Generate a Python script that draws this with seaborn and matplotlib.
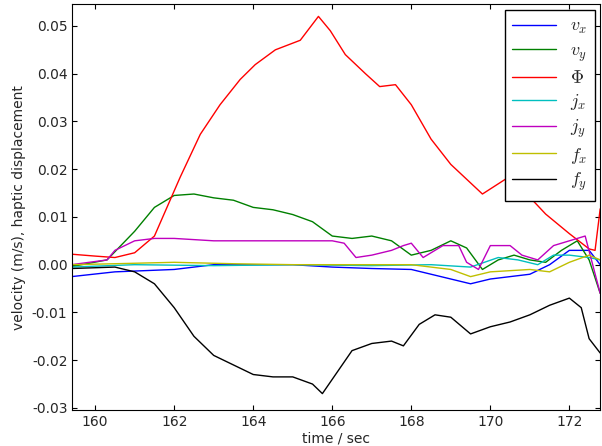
import matplotlib
matplotlib.use("Agg")
import matplotlib.pyplot as plt
import seaborn as sns
import pandas as pd

t_phi = [159.4,160.0,160.5,161.0,161.5,162.15,162.66,163.16,163.67,164.05,164.56,165.19,165.65,165.95,166.33,166.84,167.2,167.6,168.0,168.5,169.0,169.8,170.4,170.9,171.4,172.0,172.5,172.65,172.78]
phi   = [0.0022,0.0018,0.0015,0.0025,0.006,0.0183,0.0273,0.0335,0.0388,0.0419,0.045,0.047,0.052,0.049,0.044,0.040,0.0373,0.0377,0.0335,0.0263,0.021,0.0148,0.018,0.015,0.0106,0.0065,0.0033,0.003,0.0117]
t_vy = [159.4,160.3,161.0,161.5,162.0,162.5,163.0,163.5,164.0,164.5,165.0,165.5,166.0,166.5,167.0,167.5,168.0,168.5,169.0,169.4,169.8,170.2,170.6,171.0,171.4,171.8,172.2,172.5,172.78]
vy   = [-0.0004,0.001,0.007,0.012,0.0145,0.0148,0.014,0.0135,0.012,0.0115,0.0105,0.009,0.006,0.0055,0.006,0.005,0.002,0.003,0.005,0.0035,-0.001,0.001,0.002,0.001,0.0005,0.003,0.005,0.001,-0.006]
t_vx = [159.4,160.5,162.0,163.0,165.0,166.0,167.0,168.0,168.5,169.0,169.5,170.0,170.5,171.0,171.5,172.0,172.5,172.78]
vx   = [-0.0025,-0.0015,-0.001,0.0,0.0,-0.0005,-0.0008,-0.001,-0.002,-0.003,-0.004,-0.003,-0.0025,-0.002,0.0,0.003,0.003,0.0]
t_jy = [159.4,160.3,160.5,161.0,161.5,162.0,163.0,166.0,166.3,166.6,167.0,167.5,167.8,168.0,168.3,168.8,169.2,169.4,169.7,170.0,170.5,170.8,171.2,171.6,172.0,172.4,172.78]
jy   = [0.0,0.001,0.003,0.005,0.0055,0.0055,0.005,0.005,0.0045,0.0015,0.002,0.003,0.004,0.0045,0.0015,0.004,0.004,0.0005,-0.001,0.004,0.004,0.002,0.001,0.004,0.005,0.006,-0.006]
t_jx = [159.4,161.0,163.0,165.0,167.0,168.5,169.5,170.2,170.7,171.2,171.6,172.0,172.5,172.78]
jx   = [-0.0005,0.0,-0.0002,0.0,-0.0002,0.0,-0.0005,0.0015,0.001,0.0,0.002,0.002,0.0015,0.001]
t_fx = [159.4,160.5,162.0,163.5,165.0,167.0,168.0,169.0,169.5,170.0,171.0,171.5,172.0,172.5,172.78]
fx   = [0.0,0.0002,0.0005,0.0002,0.0,0.0,0.0,-0.001,-0.0025,-0.0015,-0.001,-0.0015,0.0005,0.002,0.001]
t_fy = [159.4,160.5,161.0,161.5,162.0,162.5,163.0,163.5,164.0,164.5,165.0,165.5,165.75,166.0,166.5,167.0,167.5,167.8,168.2,168.6,169.0,169.5,170.0,170.5,171.0,171.5,172.0,172.3,172.5,172.78]
fy   = [-0.0008,-0.0005,-0.0015,-0.004,-0.009,-0.015,-0.019,-0.021,-0.023,-0.0235,-0.0235,-0.025,-0.027,-0.024,-0.018,-0.0165,-0.016,-0.017,-0.0125,-0.0105,-0.011,-0.0145,-0.013,-0.012,-0.0105,-0.0085,-0.007,-0.009,-0.0155,-0.0185]

series = [(t_vx, vx, r'$v_x$', 'b'), (t_vy, vy, r'$v_y$', 'g'), (t_phi, phi, r'$\Phi$', 'r'),
          (t_jx, jx, r'$j_x$', 'c'), (t_jy, jy, r'$j_y$', 'm'), (t_fx, fx, r'$f_x$', 'y'),
          (t_fy, fy, r'$f_y$', 'k')]

sns.set_style('ticks')
plt.rcParams['font.family'] = ['DejaVu Sans']
plt.rcParams['mathtext.fontset'] = 'cm'
fig = plt.figure(figsize=(6.02, 4.46), dpi=100)
ax = fig.add_axes([0.12, 0.08, 0.877, 0.91])
for t, v, lab, c in series:
    sns.lineplot(x=t, y=v, ax=ax, color=c, label=lab, linewidth=1)
ax.set_xlim(159.42, 172.78)
ax.set_ylim(-0.0305, 0.0545)
ax.set_xticks([160, 162, 164, 166, 168, 170, 172])
ax.set_yticks([-0.03, -0.02, -0.01, 0.0, 0.01, 0.02, 0.03, 0.04, 0.05])
ax.set_yticklabels(['-0.03', '-0.02', '-0.01', '0.00', '0.01', '0.02', '0.03', '0.04', '0.05'])
ax.tick_params(direction='in', top=True, right=True, labelsize=10, color='k')
for s in ax.spines.values():
    s.set_color('k')
ax.set_xlabel('time / sec', fontsize=10, labelpad=2)
ax.set_ylabel('velocity (m/s), haptic displacement', fontsize=10)
leg = ax.legend(loc='upper right', fontsize=13, fancybox=False, framealpha=1, edgecolor='k',
                handlelength=2.4, labelspacing=0.3, borderaxespad=0.3)
fig.savefig('out.png', dpi=100)
